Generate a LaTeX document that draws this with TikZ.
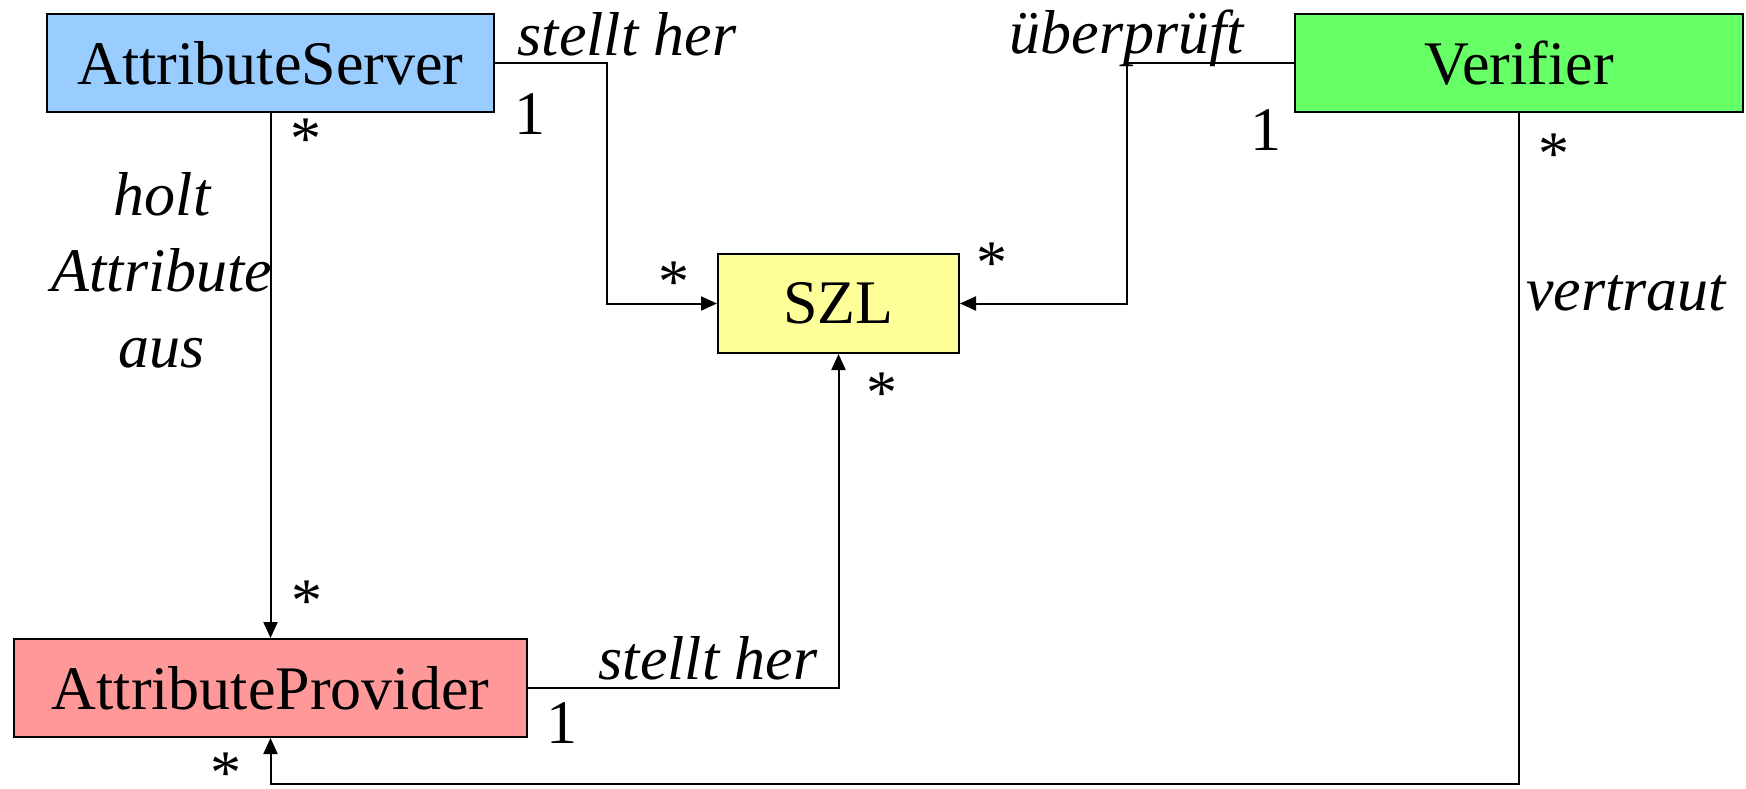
\documentclass[tikz,border=0pt]{standalone}
\usepackage{fontspec}
\setmainfont{Liberation Serif}
\usetikzlibrary{arrows.meta}
\definecolor{asblue}{HTML}{99CCFF}
\definecolor{vgreen}{HTML}{66FF66}
\definecolor{szlyellow}{HTML}{FFFF99}
\definecolor{apred}{HTML}{FF9999}
\begin{document}
\begin{tikzpicture}[x=1pt,y=-1pt,
  cls/.style={draw=black, line width=2pt, minimum height=98pt, inner sep=0pt,
    font=\fontsize{62}{70}\selectfont},
  conn/.style={line width=2pt, -{Triangle[length=16pt,width=14pt]}},
  lbl/.style={font=\fontsize{62}{76}\selectfont\itshape, inner sep=0pt, anchor=base, align=center},
  mult/.style={font=\fontsize{62}{70}\selectfont, inner sep=0pt}]
\useasboundingbox[fill=white] (0,0) rectangle (1746,788);
% classes
\node[cls, fill=asblue, minimum width=447pt] (as) at (270.5,63) {AttributeServer};
\node[cls, fill=vgreen, minimum width=448pt] (v) at (1519,63) {Verifier};
\node[cls, fill=szlyellow, minimum width=241pt, minimum height=99pt] (szl) at (838.5,303.5) {SZL};
\node[cls, fill=apred, minimum width=513pt] (ap) at (270.5,688) {AttributeProvider};
% bend coordinates
\coordinate (b1) at (607,0);
\coordinate (b2) at (1127,0);
\coordinate (b3) at (0,784);
% connectors
\draw[conn] (as.east) -- (b1 |- as.east) -- (b1 |- szl.west) -- (szl.west);
\draw[conn] (v.west) -- (b2 |- v.west) -- (b2 |- szl.east) -- (szl.east);
\draw[conn] (as.south) -- (ap.north);
\draw[conn] (ap.east) -| (szl.south);
\draw[conn] (v.south) -- (v.south |- b3) -- (ap.south |- b3) -- (ap.south);
% association labels
\node[lbl] (l1) at (627,55) {stellt her};
\node[lbl] (l2) at (1127,53) {überprüft};
\node[lbl] (l3) at (162,367) {holt\\Attribute\\aus};
\node[lbl] (l4) at (1626,310) {vertraut};
\node[lbl] (l5) at (708,679) {stellt her};
% multiplicities
\node[mult] (m1) at (530,114) {1};
\node[mult] (m2) at (306,139) {*};
\node[mult] (m3) at (674,282) {*};
\node[mult] (m4) at (992,263) {*};
\node[mult] (m5) at (882,393) {*};
\node[mult] (m6) at (1266,130) {1};
\node[mult] (m7) at (1554,154) {*};
\node[mult] (m8) at (307,601) {*};
\node[mult] (m9) at (562,723) {1};
\node[mult] (m10) at (226,773) {*};
\end{tikzpicture}
\end{document}
